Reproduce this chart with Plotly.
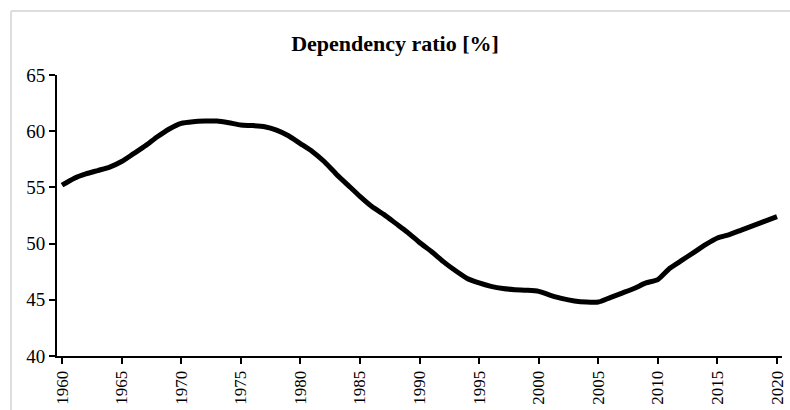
import plotly.graph_objects as go

years = list(range(1960, 2021))
dependency_ratio = [
    55.2, 55.8, 56.2, 56.5, 56.8, 57.3, 58.0, 58.7, 59.5, 60.2,
    60.7, 60.85, 60.9, 60.9, 60.75, 60.55, 60.5, 60.4, 60.1, 59.6,
    58.9, 58.2, 57.3, 56.2, 55.2, 54.2, 53.3, 52.6, 51.8, 51.0,
    50.1, 49.3, 48.4, 47.6, 46.9, 46.5, 46.2, 46.0, 45.9, 45.85,
    45.75, 45.4, 45.1, 44.9, 44.8, 44.8, 45.2, 45.6, 46.0, 46.5,
    46.8, 47.8, 48.5, 49.2, 49.9, 50.5, 50.8, 51.2, 51.6, 52.0,
    52.4,
]
tick_years = list(range(1960, 2021, 5))
y_ticks = [40, 45, 50, 55, 60, 65]

serif = "Liberation Serif, Times New Roman, serif"

fig = go.Figure(go.Scatter(
    x=years, y=dependency_ratio, mode="lines",
    line=dict(color="black", width=5, shape="spline", smoothing=0.6),
    hoverinfo="x+y",
))

fig.update_layout(
    width=790, height=410,
    paper_bgcolor="white", plot_bgcolor="white",
    margin=dict(l=57, r=8, t=75, b=54),
    showlegend=False,
    title=dict(text="<b>Dependency ratio [%]</b>", x=0.5, xanchor="center",
               y=0.895, yanchor="middle",
               font=dict(family=serif, size=22, color="black")),
    shapes=[
        dict(type="line", xref="paper", yref="paper", x0=-0.0634, x1=1.02, y0=1.228, y1=1.228,
             line=dict(color="#dddddd", width=2)),
        dict(type="line", xref="paper", yref="paper", x0=-0.0634, x1=-0.0634, y0=-0.2, y1=1.228,
             line=dict(color="#dddddd", width=2)),
    ],
)

fig.update_xaxes(
    range=[1959.58, 2020.42], tickvals=tick_years, tickangle=-90, automargin=False,
    showgrid=False, zeroline=False, showline=True, linecolor="black", linewidth=2,
    ticks="outside", ticklen=6, tickwidth=2, tickcolor="black",
    tickfont=dict(family=serif, size=17, color="black"),
)
fig.update_yaxes(
    range=[40, 65], tickvals=y_ticks, automargin=False,
    showgrid=False, zeroline=False, showline=True, linecolor="black", linewidth=2,
    ticks="outside", ticklen=6, tickwidth=2, tickcolor="black",
    tickfont=dict(family=serif, size=19, color="black"),
)

fig.write_html("out.html", config={"displayModeBar": False},
               post_script="document.body.style.margin='0';")
